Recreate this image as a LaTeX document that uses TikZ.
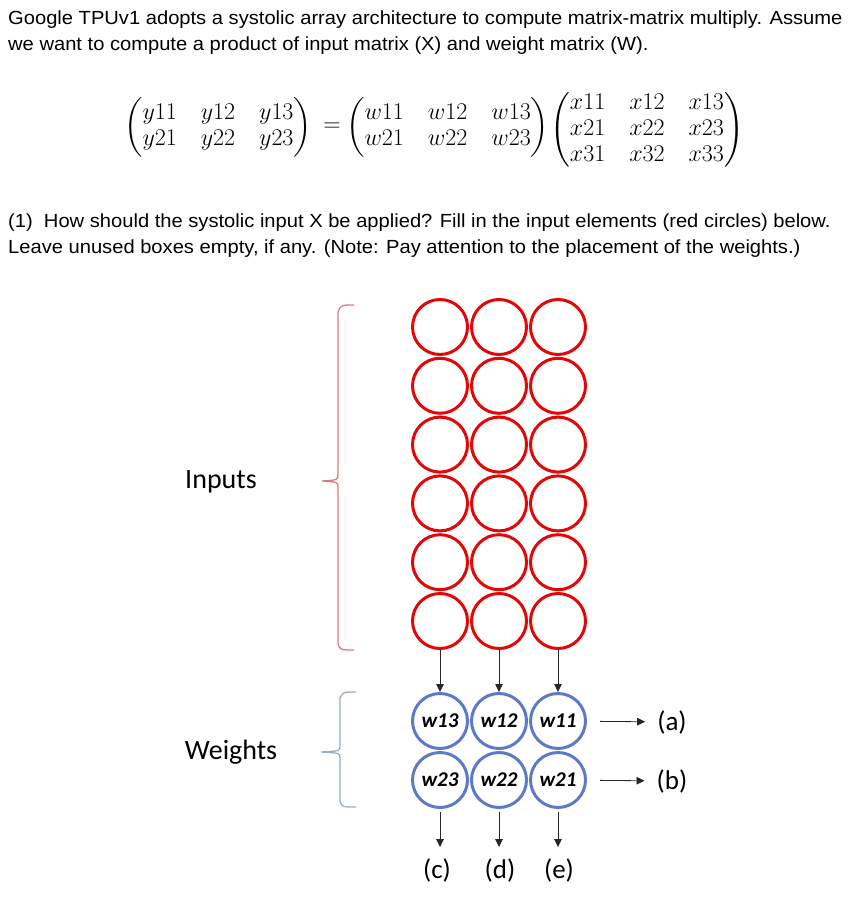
\documentclass[tikz,border=0pt]{standalone}
\usepackage{fix-cm}
\usepackage{amsmath}
\usepackage[no-math]{fontspec}
\setmainfont{Liberation Sans}[FakeStretch=1.06]
\newfontfamily\calibri{Carlito}
\usetikzlibrary{arrows.meta}
\definecolor{cred}{RGB}{226,8,8}
\definecolor{cblue}{RGB}{92,122,200}
\definecolor{bred}{RGB}{226,120,135}
\definecolor{bblue}{RGB}{150,170,215}
\begin{document}
\begin{tikzpicture}[x=1pt,y=-1pt,
  redc/.style={circle, draw=cred, line width=3pt, minimum size=55pt, inner sep=0pt},
  bluec/.style={circle, draw=cblue, line width=3pt, minimum size=55pt, inner sep=0pt,
     font=\calibri\bfseries\itshape\fontsize{21}{24}\selectfont},
  arr/.style={-{Triangle[length=8pt,width=7.5pt]}, line width=0.8pt, black!85},
  body/.style={anchor=base west, inner sep=0pt, font=\fontsize{19}{22}\selectfont},
  lab/.style={inner sep=0pt, font=\calibri\fontsize{27}{30}\selectfont},
  side/.style={inner sep=0pt, font=\calibri\fontsize{28}{30}\selectfont},
  eqn/.style={inner sep=0pt, font=\fontsize{24}{26}\selectfont},
  brace/.style={line width=1.3pt}]
\useasboundingbox (0,0) rectangle (847,901);
% text
\node[body] (t1) at (8,25) {Google TPUv1 adopts a systolic array architecture to compute matrix-matrix multiply. Assume};
\node[body] (t2) at (8,51) {we want to compute a product of input matrix (X) and weight matrix (W).};
\node[body] (q1) at (8,227) {(1)\ \ How should the systolic input X be applied? Fill in the input elements (red circles) below.};
\node[body] (q2) at (8,253) {Leave unused boxes empty, if any. (Note: Pay attention to the placement of the weights.)};
% equation
\arraycolsep=12pt
\node[eqn, anchor=west] (ym) at (124,127) {$\begin{pmatrix} y11 & y12 & y13\\ y21 & y22 & y23\end{pmatrix}$};
\node[eqn] (eq) at (332,127) {$=$};
\node[eqn, anchor=west] (wm) at (346,127) {$\begin{pmatrix} w11 & w12 & w13\\ w21 & w22 & w23\end{pmatrix}$};
\node[eqn, anchor=west] (xm) at (550,130) {$\begin{pmatrix} x11 & x12 & x13\\ x21 & x22 & x23\\ x31 & x32 & x33\end{pmatrix}$};
% red input circles
\foreach \r in {1,...,6}
  \foreach \c/\x in {1/440,2/499,3/558}
    \node[redc] (r\r\c) at (\x,{327+58.8*(\r-1)}) {};
% blue weight circles
\node[bluec] (b11) at (440,721) {w13};
\node[bluec] (b12) at (499,721) {w12};
\node[bluec] (b13) at (558,721) {w11};
\node[bluec] (b21) at (440,780) {w23};
\node[bluec] (b22) at (499,780) {w22};
\node[bluec] (b23) at (558,780) {w21};
% arrows inputs -> weights
\foreach \c in {1,2,3}
  \draw[arr] (r6\c) -- (b1\c);
% outputs
\node[lab] (a) at (672,722) {(a)};
\node[lab] (b) at (672,781) {(b)};
\node[lab] (c) at (437,870) {(c)};
\node[lab] (d) at (500,870) {(d)};
\node[lab] (e) at (559,870) {(e)};
\draw[arr, shorten <=13pt, shorten >=12pt] (b13) -- (a);
\draw[arr, shorten <=13pt, shorten >=12pt] (b23) -- (b);
\draw[arr, shorten <=3pt, shorten >=11pt] (b21) -- (b21 |- c.north);
\draw[arr, shorten <=3pt, shorten >=11pt] (b22) -- (b22 |- d.north);
\draw[arr, shorten <=3pt, shorten >=11pt] (b23) -- (b23 |- e.north);
% labels and braces
\node[side] (inp) at (221,482) {Inputs};
\node[side] (wts) at (231,752) {Weights};
\draw[brace, draw=bred] (354,305) .. controls (341,305) .. (338,312) -- (338,474)
   .. controls (338,480) .. (322,481) .. controls (338,482) .. (338,488) -- (338,643)
   .. controls (340,650) .. (354,650);
\draw[brace, draw=bblue] (356,692) .. controls (343,692) .. (340,698) -- (340,746)
   .. controls (340,751) .. (321,752) .. controls (340,753) .. (340,758) -- (340,801)
   .. controls (342,807) .. (356,807);
\end{tikzpicture}
\end{document}
